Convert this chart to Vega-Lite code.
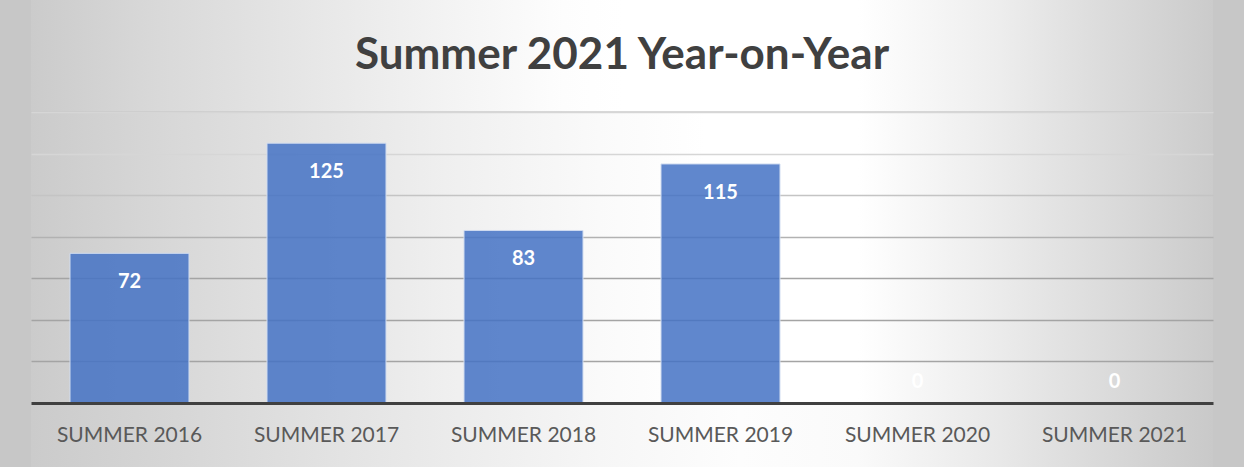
{
  "$schema": "https://vega.github.io/schema/vega-lite/v6.json",
  "width": 1182,
  "height": 291,
  "autosize": {"type": "none"},
  "padding": {"left": 31, "top": 112, "right": 31, "bottom": 64},
  "background": "#c7c7c7",
  "title": {
    "text": "Summer 2021 Year-on-Year",
    "font": "Lato",
    "fontSize": 44,
    "fontWeight": "bold",
    "color": "#404040",
    "anchor": "middle",
    "baseline": "alphabetic",
    "offset": -113
  },
  "config": {
    "axisY": {
      "grid": true,
      "gridWidth": 1.5,
      "labels": false,
      "ticks": false,
      "domain": false,
      "title": null
    },
    "view": {
      "stroke": null,
      "fill": {
        "gradient": "linear",
        "x1": 0, "y1": 0, "x2": 1, "y2": 0,
        "stops": [
          {"offset": 0, "color": "#cbcbcb"},
          {"offset": 0.1, "color": "#d6d6d6"},
          {"offset": 0.23, "color": "#e3e3e3"},
          {"offset": 0.35, "color": "#efefef"},
          {"offset": 0.48, "color": "#fafafa"},
          {"offset": 0.57, "color": "#ffffff"},
          {"offset": 0.7, "color": "#ffffff"},
          {"offset": 0.82, "color": "#ebebeb"},
          {"offset": 0.9, "color": "#dddddd"},
          {"offset": 1, "color": "#cbcbcb"}
        ]
      }
    }
  },
  "layer": [
    {
      "data": {"values": [{}]},
      "mark": {
        "type": "rect",
        "clip": false,
        "color": {
          "gradient": "linear",
          "x1": 0, "y1": 0, "x2": 1, "y2": 0,
          "stops": [
            {"offset": 0, "color": "#cbcbcb"},
            {"offset": 0.1, "color": "#d8d8d8"},
            {"offset": 0.23, "color": "#e6e6e6"},
            {"offset": 0.35, "color": "#f3f3f3"},
            {"offset": 0.45, "color": "#fdfdfd"},
            {"offset": 0.5, "color": "#ffffff"},
            {"offset": 0.7, "color": "#ffffff"},
            {"offset": 0.82, "color": "#ededed"},
            {"offset": 0.9, "color": "#dddddd"},
            {"offset": 1, "color": "#cbcbcb"}
          ]
        }
      },
      "encoding": {
        "y": {
          "datum": 140.4,
          "type": "quantitative",
          "axis": {
            "values": [20, 40, 60, 80, 100, 120, 140],
            "gridColor": {
              "condition": [
                {"test": "datum.value >= 120", "value": "#d6d6d6"},
                {"test": "datum.value >= 100", "value": "#c4c4c4"},
                {"test": "datum.value >= 80", "value": "#b2b2b2"}
              ],
              "value": "#a4a4a4"
            }
          }
        },
        "y2": {"datum": 193.9}
      }
    },
    {
      "data": {"values": [{}]},
      "mark": {
        "type": "rect",
        "clip": false,
        "color": {
          "gradient": "linear",
          "x1": 0, "y1": 0, "x2": 1, "y2": 0,
          "stops": [
            {"offset": 0, "color": "#cbcbcb"},
            {"offset": 0.1, "color": "#d4d4d4"},
            {"offset": 0.23, "color": "#e0e0e0"},
            {"offset": 0.35, "color": "#ebebeb"},
            {"offset": 0.48, "color": "#f6f6f6"},
            {"offset": 0.6, "color": "#fdfdfd"},
            {"offset": 0.7, "color": "#fafafa"},
            {"offset": 0.82, "color": "#e8e8e8"},
            {"offset": 0.9, "color": "#dadada"},
            {"offset": 1, "color": "#c9c9c9"}
          ]
        }
      },
      "encoding": {
        "y": {
          "datum": -30.8,
          "type": "quantitative",
          "axis": {
            "values": [20, 40, 60, 80, 100, 120, 140],
            "gridColor": {
              "condition": [
                {"test": "datum.value >= 120", "value": "#d6d6d6"},
                {"test": "datum.value >= 100", "value": "#c4c4c4"},
                {"test": "datum.value >= 80", "value": "#b2b2b2"}
              ],
              "value": "#a4a4a4"
            }
          }
        },
        "y2": {"datum": 0}
      }
    },
    {
      "data": {
        "values": [
          {"season": "SUMMER 2016", "count": 72},
          {"season": "SUMMER 2017", "count": 125},
          {"season": "SUMMER 2018", "count": 83},
          {"season": "SUMMER 2019", "count": 115},
          {"season": "SUMMER 2020", "count": 0},
          {"season": "SUMMER 2021", "count": 0}
        ]
      },
      "encoding": {
        "x": {
          "field": "season",
          "type": "nominal",
          "sort": null,
          "scale": {"paddingInner": 0.396, "paddingOuter": 0.198},
          "axis": {
            "title": null,
            "labelAngle": 0,
            "labelFont": "Lato",
            "labelFontSize": 21,
            "labelColor": "#595959",
            "labelPadding": 21,
            "ticks": false,
            "domainColor": "#404040",
            "domainWidth": 3,
            "zindex": 2
          }
        },
        "y": {
          "field": "count",
          "type": "quantitative",
          "scale": {"domain": [0, 140]},
          "axis": {
            "values": [20, 40, 60, 80, 100, 120, 140],
            "gridColor": {
              "condition": [
                {"test": "datum.value >= 120", "value": "#d6d6d6"},
                {"test": "datum.value >= 100", "value": "#c4c4c4"},
                {"test": "datum.value >= 80", "value": "#b2b2b2"}
              ],
              "value": "#a4a4a4"
            }
          }
        }
      },
      "layer": [
        {
          "mark": {
            "type": "bar",
            "fill": "#4472c4",
            "fillOpacity": 0.85,
            "stroke": "#d0dcf0",
            "strokeWidth": 1
          }
        },
        {
          "transform": [{"filter": "datum.count > 0"}],
          "mark": {
            "type": "text",
            "font": "Lato",
            "fontSize": 20,
            "fontWeight": "bold",
            "color": "#ffffff",
            "baseline": "middle",
            "dy": 29
          },
          "encoding": {
            "text": {"field": "count", "type": "quantitative"}
          }
        },
        {
          "transform": [{"filter": "datum.count == 0"}],
          "mark": {
            "type": "text",
            "font": "Lato",
            "fontSize": 20,
            "fontWeight": "bold",
            "color": "#ffffff",
            "baseline": "middle",
            "dy": -21
          },
          "encoding": {
            "text": {"field": "count", "type": "quantitative"}
          }
        }
      ]
    }
  ]
}
